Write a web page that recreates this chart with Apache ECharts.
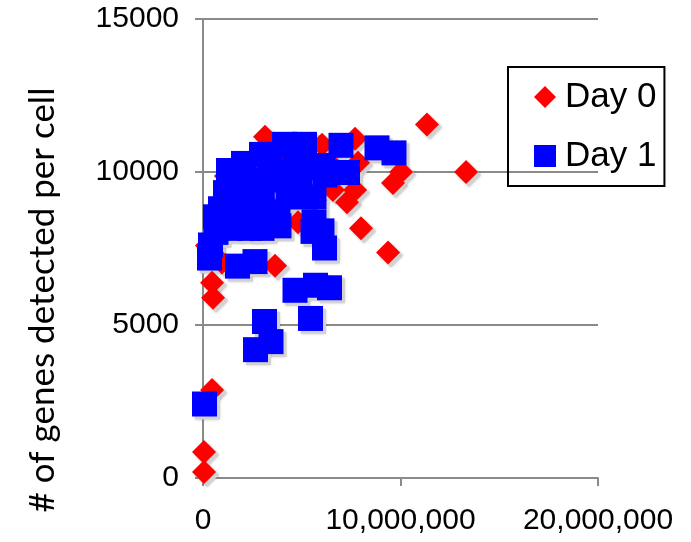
<!DOCTYPE html>
<html>
<head>
<meta charset="utf-8">
<script src="https://cdn.jsdelivr.net/npm/echarts@6/dist/echarts.min.js"></script>
<style>html,body{margin:0;padding:0;background:#fff}#c{width:691px;height:542px}</style>
</head>
<body>
<div id="c"></div>
<script>
// Day 0 (red diamonds): reads per cell, genes detected
const day0X = [50000, 50000, 460000, 460000, 510000, 3650000, 11340000, 13320000, 9620000, 7290000, 8000000, 9370000,
  3140000, 6030000, 7700000, 7850000, 6580000, 7700000, 10030000, 4810000, 200000, 1160000, 960000,
  2380000, 3900000, 4910000, 1870000, 3140000, 4400000, 2130000, 3490000, 5420000, 6680000, 1470000, 2890000, 5670000, 1110000, 1270000];
const day0Y = [196, 850, 2876, 6380, 5890, 6940, 11550, 10000, 9640, 9010, 8160, 7370,
  11150, 10890, 11090, 10300, 9410, 9410, 10000, 8360, 7600, 9870, 7040,
  10070, 10460, 10070, 9570, 9080, 9470, 8590, 8680, 10390, 10130, 9080, 9800, 9080, 8260, 9510];
// Day 1 (blue squares)
const day1X = [4127000, 5139000, 6987000, 8810000, 9670000, 6076000, 7316000, 2962000, 2051000, 1291000, 1139000, 886000, 633000, 380000, 329000,
  3392000, 4658000, 2380000, 3646000, 4911000, 6177000, 5620000, 1873000, 2987000, 4304000, 1620000, 2633000, 3848000, 5620000, 6025000, 6152000,
  1367000, 2380000, 1747000, 2633000, 658000, 5316000, 3797000, 5570000, 2987000,
  4264000, 2995000, 4924000, 2132000,
  3114000, 3443000, 2658000, 4658000, 5696000, 6405000, 5443000, 76000];
const day1Y = [10905, 10905, 10872, 10789, 10625, 10214, 9984, 10576, 10280, 10049, 9326, 8799, 8536, 7615, 7188,
  10230, 10230, 9737, 9737, 9737, 9901, 9178, 9243, 9243, 9243, 8586, 8586, 8240, 8355, 8076, 7516,
  8158, 8158, 6924, 7072, 8026, 10132, 8684, 8059, 8158,
  10000, 9510, 9183, 8922,
  5115, 4457, 4194, 6135, 6299, 6217, 5214, 2418];
const xTicks = [0, 10000000, 20000000];
const yTicks = [0, 5000, 10000, 15000];

const pair = (xs, ys) => xs.map((x, i) => [x, ys[i]]);
const shadowStyle = {color: '#d2d2d2', opacity: 1, shadowBlur: 3, shadowColor: 'rgba(0,0,0,0.25)'};
const chart = echarts.init(document.getElementById('c'));
const gray = '#8a8a8a';
chart.setOption({
  animation: false,
  grid: {left: 203, right: 93, top: 19, bottom: 64, containLabel: false},
  xAxis: {
    type: 'value', min: xTicks[0], max: xTicks[xTicks.length - 1], interval: xTicks[1] - xTicks[0],
    axisLine: {show: true, lineStyle: {color: gray, width: 2}},
    axisTick: {show: true, length: 8, lineStyle: {color: gray, width: 2}},
    splitLine: {show: false},
    axisLabel: {color: '#000', fontFamily: 'Liberation Sans', fontSize: 30, margin: 28,
      formatter: v => v.toLocaleString('en-US')}
  },
  yAxis: {
    type: 'value', min: yTicks[0], max: yTicks[yTicks.length - 1], interval: yTicks[1] - yTicks[0],
    axisLine: {show: true, lineStyle: {color: gray, width: 2}},
    axisTick: {show: true, length: 8, lineStyle: {color: gray, width: 2}},
    splitLine: {show: true, lineStyle: {color: gray, width: 2}},
    axisLabel: {color: '#000', fontFamily: 'Liberation Sans', fontSize: 30, margin: 24,
      formatter: v => String(v)}
  },
  legend: {
    orient: 'vertical', left: 508, top: 67,
    padding: [12, 8, 12, 26], itemGap: 23, itemWidth: 22, itemHeight: 22,
    borderColor: '#000', borderWidth: 2,
    textStyle: {color: '#000', fontFamily: 'Liberation Sans', fontSize: 35, lineHeight: 36, padding: [0, 0, 0, 4]},
    itemStyle: {opacity: 1},
    data: [{name: 'Day 0', icon: 'diamond'}, {name: 'Day 1', icon: 'rect'}]
  },
  graphic: [{
    type: 'text', x: 43, y: 300, rotation: Math.PI / 2,
    style: {text: '# of genes detected per cell', fontFamily: 'Lato', fontSize: 35, fill: '#000',
      align: 'center', verticalAlign: 'middle'}
  }],
  series: [
    {type: 'scatter', symbol: 'diamond', symbolSize: 24, symbolOffset: [3, 3], silent: true, z: 1,
      itemStyle: shadowStyle, data: pair(day0X, day0Y)},
    {type: 'scatter', symbol: 'rect', symbolSize: 25, symbolOffset: [3, 3], silent: true, z: 1,
      itemStyle: shadowStyle, data: pair(day1X, day1Y)},
    {name: 'Day 0', type: 'scatter', symbol: 'diamond', symbolSize: 24, z: 2,
      itemStyle: {color: '#ff0000', opacity: 1}, data: pair(day0X, day0Y)},
    {name: 'Day 1', type: 'scatter', symbol: 'rect', symbolSize: 25, z: 3,
      itemStyle: {color: '#0000ff', opacity: 1}, data: pair(day1X, day1Y)}
  ]
});
</script>
</body>
</html>
